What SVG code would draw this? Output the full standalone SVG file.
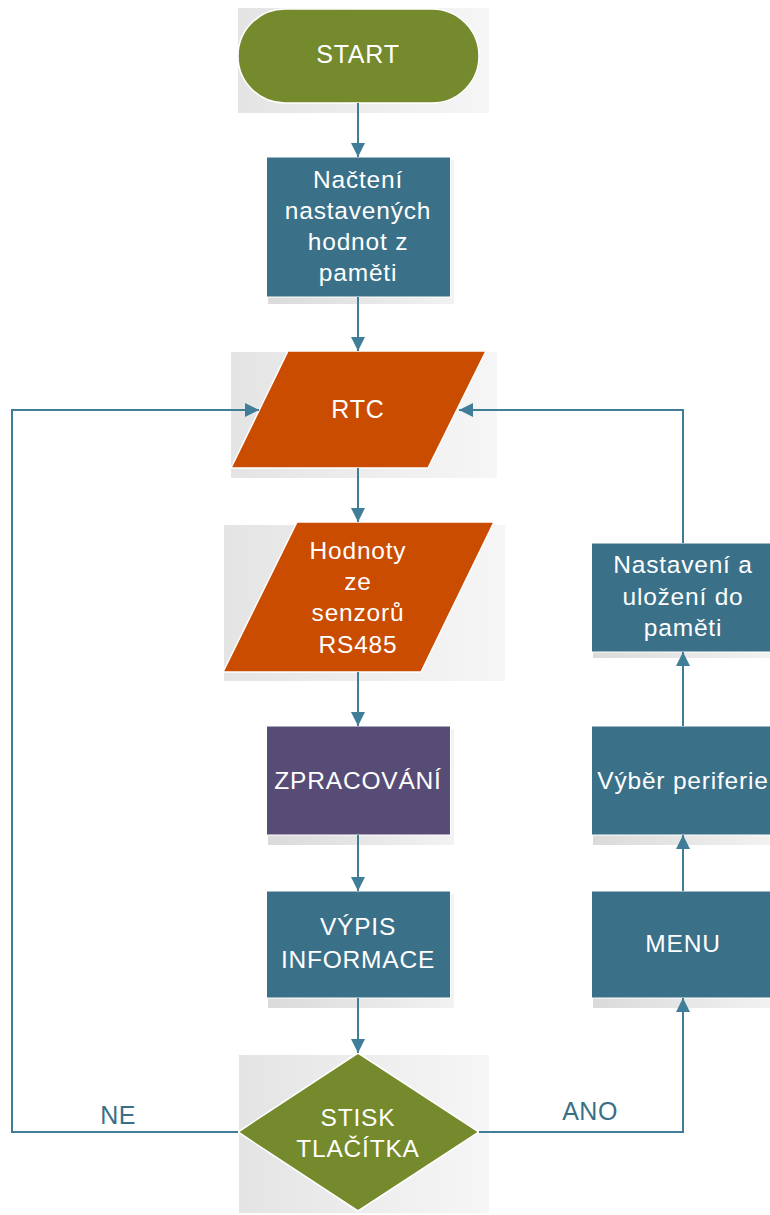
<svg xmlns="http://www.w3.org/2000/svg" width="770" height="1215" viewBox="0 0 770 1215">
<defs>
<linearGradient id="bg" x1="0" y1="0" x2="1" y2="0">
<stop offset="0" stop-color="#e4e4e4"/>
<stop offset="1" stop-color="#f6f6f6"/>
</linearGradient>
<linearGradient id="sh" x1="0" y1="0" x2="1" y2="0">
<stop offset="0" stop-color="#dadada"/>
<stop offset="1" stop-color="#f2f2f2"/>
</linearGradient>
<marker id="ah" viewBox="0 0 14 14" refX="14" refY="7" markerWidth="14" markerHeight="14" markerUnits="userSpaceOnUse" orient="auto">
<path d="M0,0 L14,7 L0,14 Z" fill="#3f7d99"/>
</marker>
<style>
.t{font-family:"Liberation Sans",Arial,sans-serif;font-size:24.5px;fill:#ffffff;text-anchor:middle;letter-spacing:0.8px}
.lbl{font-family:"Liberation Sans",Arial,sans-serif;font-size:25px;fill:#3a6f86;text-anchor:middle;letter-spacing:0.5px}
.teal{fill:#3a7189;stroke:#ffffff;stroke-width:1}
.orange{fill:#ca4c01;stroke:#ffffff;stroke-width:1.5}
.green{fill:#748a2c;stroke:#ffffff;stroke-width:1.5}
.purple{fill:#574c76;stroke:#ffffff;stroke-width:1}
.bgbox{fill:url(#bg)}
.shadow{fill:url(#sh)}
.c{fill:none;stroke:#3f7d99;stroke-width:2}
</style>
</defs>
<rect width="770" height="1215" fill="#ffffff"/>

<g id="start">
<rect class="bgbox" x="238" y="8" width="251" height="105"/>
<rect class="green" x="238" y="9" width="241" height="94" rx="47" ry="47"/>
<text class="t" x="358" y="63" style="font-size:25px">START</text>
</g>

<g id="nacteni">
<rect class="shadow" x="268" y="160" width="186" height="144"/>
<rect class="teal" x="266.5" y="157" width="184" height="140"/>
<text class="t" x="358" y="188">Načtení</text>
<text class="t" x="358" y="219">nastavených</text>
<text class="t" x="358" y="250">hodnot z</text>
<text class="t" x="358" y="281">paměti</text>
</g>

<g id="rtc">
<rect class="bgbox" x="231" y="352" width="266" height="126"/>
<polygon class="orange" points="288,351 486,351 428,468 231,468"/>
<text class="t" x="358" y="418" style="font-size:25px">RTC</text>
</g>

<g id="hodnoty">
<rect class="bgbox" x="224" y="525" width="281" height="156"/>
<polygon class="orange" points="297,522 494,522 421,672 223,672"/>
<text class="t" x="358" y="559">Hodnoty</text>
<text class="t" x="358" y="590">ze</text>
<text class="t" x="358" y="621">senzorů</text>
<text class="t" x="358" y="653">RS485</text>
</g>

<g id="zpracovani">
<rect class="shadow" x="268" y="729" width="186" height="116"/>
<rect class="purple" x="266.5" y="726" width="184" height="109"/>
<text class="t" x="358" y="789">ZPRACOVÁNÍ</text>
</g>

<g id="vypis">
<rect class="shadow" x="268" y="894" width="186" height="114"/>
<rect class="teal" x="266.5" y="891" width="184" height="107"/>
<text class="t" x="358" y="935">VÝPIS</text>
<text class="t" x="358" y="968">INFORMACE</text>
</g>

<g id="stisk">
<rect class="bgbox" x="239" y="1055" width="250" height="158"/>
<polygon class="green" points="358,1053 479,1132 358,1211 238,1132"/>
<text class="t" x="358" y="1126">STISK</text>
<text class="t" x="358" y="1157">TLAČÍTKA</text>
</g>

<g id="nastaveni">
<rect class="shadow" x="593" y="546" width="180" height="112"/>
<rect class="teal" x="591.5" y="543" width="180" height="109"/>
<text class="t" x="683" y="573">Nastavení a</text>
<text class="t" x="683" y="605">uložení do</text>
<text class="t" x="683" y="636">paměti</text>
</g>

<g id="vyber">
<rect class="shadow" x="593" y="729" width="180" height="116"/>
<rect class="teal" x="591.5" y="726" width="180" height="109"/>
<text class="t" x="683" y="789">Výběr periferie</text>
</g>

<g id="menu">
<rect class="shadow" x="593" y="894" width="180" height="114"/>
<rect class="teal" x="591.5" y="891" width="180" height="107"/>
<text class="t" x="683" y="952">MENU</text>
</g>

<g id="connectors">
<line class="c" x1="358" y1="103" x2="358" y2="157" marker-end="url(#ah)"/>
<line class="c" x1="358" y1="297" x2="358" y2="351" marker-end="url(#ah)"/>
<line class="c" x1="358" y1="468" x2="358" y2="522" marker-end="url(#ah)"/>
<line class="c" x1="358" y1="672" x2="358" y2="726" marker-end="url(#ah)"/>
<line class="c" x1="358" y1="835" x2="358" y2="891" marker-end="url(#ah)"/>
<line class="c" x1="358" y1="998" x2="358" y2="1053" marker-end="url(#ah)"/>
<polyline class="c" points="238,1132 12,1132 12,410 259,410" marker-end="url(#ah)"/>
<polyline class="c" points="479,1132 683,1132 683,998" marker-end="url(#ah)"/>
<line class="c" x1="683" y1="891" x2="683" y2="835" marker-end="url(#ah)"/>
<line class="c" x1="683" y1="726" x2="683" y2="652" marker-end="url(#ah)"/>
<polyline class="c" points="683,543 683,410 459,410" marker-end="url(#ah)"/>
<text class="lbl" x="118" y="1124">NE</text>
<text class="lbl" x="590" y="1120">ANO</text>
</g>
</svg>
